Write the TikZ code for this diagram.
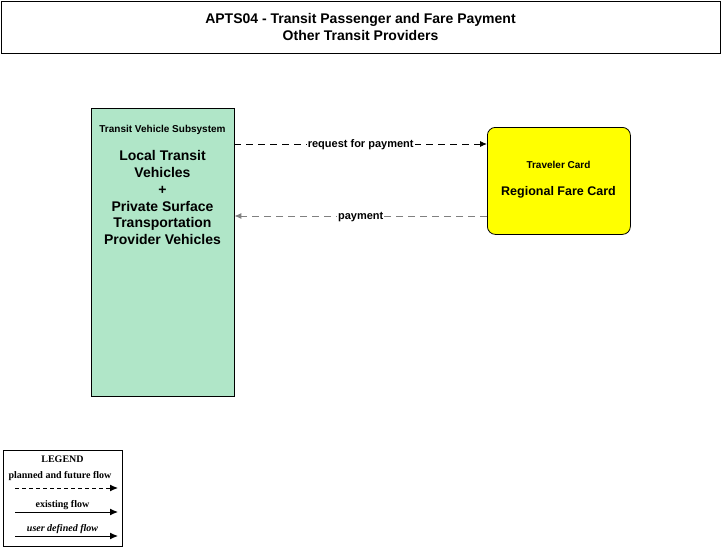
\documentclass[tikz,border=0pt]{standalone}
\usepackage{fontspec}
\setmainfont{Liberation Sans}
\newfontfamily\legfont{Liberation Serif}
\usetikzlibrary{arrows.meta}
\definecolor{tvsgreen}{HTML}{B0E6C8}
\definecolor{cardyellow}{HTML}{FFFF00}
\definecolor{flowgray}{HTML}{808080}
\begin{document}
\begin{tikzpicture}[x=1pt,y=-1pt,
  box/.style={draw=black, line width=0.8pt},
  flow/.style={line width=0.9pt, dash pattern=on 7pt off 5pt, -{Latex[length=7pt,width=6pt]}},
  lbl/.style={fill=white, inner sep=1pt, yshift=-1pt, font=\bfseries\fontsize{11}{12}\selectfont},
  legtxt/.style={font=\legfont\bfseries\fontsize{10}{11}\selectfont, inner sep=0pt},
  legarrow/.style={line width=1pt, -{Latex[length=8pt,width=7pt]}}]
\useasboundingbox (0,0) rectangle (721,549);
% title
\node[box, minimum width=719pt, minimum height=52pt, anchor=north west, inner sep=0pt] (title) at (1,1) {};
\node[font=\bfseries\fontsize{14}{17}\selectfont, align=center] (titletext) at (360.5,26.5) {APTS04 - Transit Passenger and Fare Payment\\Other Transit Providers};
% transit vehicle subsystem
\node[box, fill=tvsgreen, minimum width=143pt, minimum height=288pt, anchor=north west, inner sep=0pt] (tvs) at (91,108) {};
\node[font=\bfseries\fontsize{10}{11}\selectfont] (tvsclass) at (162.5,130) {Transit Vehicle Subsystem};
\node[font=\bfseries\fontsize{14}{16.8}\selectfont, align=center, anchor=north] (tvsname) at (162.5,147) {Local Transit\\Vehicles\\+\\Private Surface\\Transportation\\Provider Vehicles};
% traveler card
\node[box, fill=cardyellow, rounded corners=8pt, minimum width=143pt, minimum height=107pt, anchor=north west, inner sep=0pt] (card) at (487,127) {};
\node[font=\bfseries\fontsize{10}{11}\selectfont] (cardclass) at (558.5,165) {Traveler Card};
\node[font=\bfseries\fontsize{12.5}{14}\selectfont] (cardname) at (558.5,192) {Regional Fare Card};
% flows
\coordinate (a1s) at (234.4,144);
\coordinate (a1e) at (487,144);
\coordinate (a2s) at (487,216);
\coordinate (a2e) at (234.4,216);
\draw[flow, black] (a1s) -- (a1e) node[lbl, text=black, pos=0.5] (l1) {request for payment};
\draw[flow, flowgray] (a2s) -- (a2e) node[lbl, text=black, pos=0.5] (l2) {payment};
% legend
\node[draw=black, line width=0.9pt, minimum width=119pt, minimum height=96pt, anchor=north west, inner sep=0pt] (legend) at (3,450) {};
\node[legtxt] (legtitle) at (62.5,459) {LEGEND};
\node[legtxt] (leg1) at (60,476) {planned and future flow};
\coordinate (lg1s) at (15,488); \coordinate (lg1e) at (118,488);
\draw[legarrow, dash pattern=on 4pt off 3pt] (lg1s) -- (lg1e);
\node[legtxt] (leg2) at (62.5,505) {existing flow};
\coordinate (lg2s) at (15,512); \coordinate (lg2e) at (118,512);
\draw[legarrow] (lg2s) -- (lg2e);
\node[legtxt, font=\legfont\bfseries\itshape\fontsize{10}{11}\selectfont] (leg3) at (62.5,529) {user defined flow};
\coordinate (lg3s) at (15,536); \coordinate (lg3e) at (118,536);
\draw[legarrow] (lg3s) -- (lg3e);
\end{tikzpicture}
\end{document}
